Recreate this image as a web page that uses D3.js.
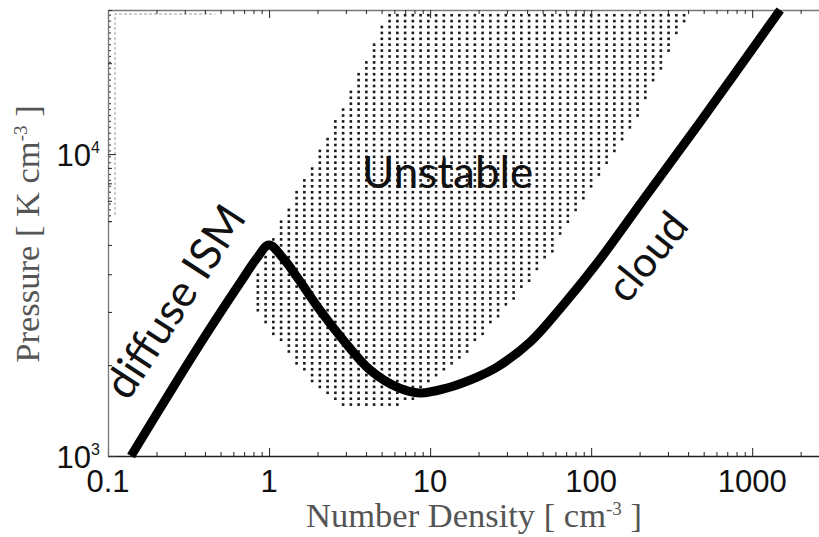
<!DOCTYPE html>
<html>
<head>
<meta charset="utf-8">
<script src="https://cdn.jsdelivr.net/npm/d3@7"></script>
<style>
  html, body { margin: 0; padding: 0; background: #fff; }
  svg { display: block; }
</style>
</head>
<body>
<svg id="chart" width="819" height="537"></svg>
<script>
// Thermal equilibrium curve: number density [cm^-3] vs pressure [K cm^-3]
const curveDensity  = [0.139, 0.254, 0.412, 0.66, 0.842, 1.0, 1.22, 1.49, 2.07, 2.89, 4.24, 6.24, 8.67, 12.75, 19.6, 26.1, 41.8, 67.0, 109, 210, 475, 1493];
const curvePressure = [1000, 1692, 2552, 3741, 4524, 5000, 4524, 3919, 3041, 2421, 1927, 1692, 1617, 1680, 1826, 1971, 2385, 3162, 4356, 7041, 12760, 30000];

// Outline of the thermally unstable zone (clockwise from the top-left corner)
const unstableDensity  = [5.64, 2.84, 1.60, 1.26, 0.905, 0.796, 0.796, 0.905, 1.12, 1.60, 2.02, 2.84, 3.18, 5.81, 7.51, 10.3, 16.0, 22.9, 36.2, 57.3, 103, 202, 412];
const unstablePressure = [30000, 14310, 8080, 6377, 4457, 3627, 3211, 2886, 2422, 1897, 1654, 1487, 1420, 1420, 1510, 1745, 2079, 2653, 3465, 4738, 7896, 13770, 30000];

// Axis ticks
const xMajorTicks = [0.1, 1, 10, 100, 1000];
const xTickLabels = ["0.1", "1", "10", "100", "1000"];
const xMinorTicks = [0.2, 0.3, 0.4, 0.5, 0.6, 0.7, 0.8, 0.9, 2, 3, 4, 5, 6, 7, 8, 9, 20, 30, 40, 50, 60, 70, 80, 90, 200, 300, 400, 500, 600, 700, 800, 900, 2000, 3000];
const yMajorTicks = [1000, 10000];
const yTickExponents = ["3", "4"];
const yMinorTicks = [2000, 3000, 4000, 5000, 6000, 7000, 8000, 9000, 20000, 30000];

// Text labels
const xTitle = { main: "Number Density [ cm", sup: "-3", tail: " ]" };
const yTitle = { main: "Pressure [ K cm", sup: "-3", tail: " ]" };
const regionLabels = ["Unstable", "diffuse ISM", "cloud"];

const svg = d3.select("#chart");
const plotLeft = 108, plotRight = 829, plotTop = 10, plotBottom = 456;

const x = d3.scaleLog().domain([0.1, 3000]).range([plotLeft, plotRight]);
const y = d3.scaleLog().domain([1000, 30000]).range([plotBottom, plotTop]);

// ---- stippled unstable region ----
const poly = unstableDensity.map((d, i) => [x(d), y(unstablePressure[i])]);
const dotDx = 7.75, dotDy = 5.9, dotX0 = 389.6, dotY0 = 15.2;
const dots = [];
for (let gy = dotY0; gy < plotBottom; gy += dotDy) {
  for (let gx = dotX0 - dotDx * 40; gx < 819; gx += dotDx) {
    if (gx > plotLeft && d3.polygonContains(poly, [gx, gy])) dots.push([gx, gy]);
  }
}
svg.append("g").attr("class", "stipple")
  .selectAll("rect").data(dots).join("rect")
  .attr("x", d => d[0] - 1.3).attr("y", d => d[1] - 1.3)
  .attr("width", 2.6).attr("height", 2.6)
  .attr("fill", "#1a1a1a");

// faint dashed frame in the upper-left corner
svg.append("path")
  .attr("d", `M115,215 V14 H215`)
  .attr("fill", "none").attr("stroke", "#9a9a9a").attr("stroke-width", 1)
  .attr("stroke-dasharray", "3,2");

// small marks along the left edge
const edgeMarks = d3.range(dotY0, 224, dotDy);
svg.append("g").selectAll("line").data(edgeMarks).join("line")
  .attr("x1", plotLeft).attr("x2", plotLeft + 3)
  .attr("y1", d => d).attr("y2", d => d)
  .attr("stroke", "#444").attr("stroke-width", 1.2);

// ---- axes ----
function styleAxis(g, color) {
  g.selectAll("path.domain").attr("stroke", color).attr("stroke-width", 1.3);
  g.selectAll(".tick line").attr("stroke", "#333").attr("stroke-width", 1.1);
  g.selectAll(".tick text").remove();
}
// bottom
svg.append("g").attr("transform", `translate(0,${plotBottom})`)
  .call(d3.axisBottom(x).tickValues(xMinorTicks).tickSizeInner(-4).tickSizeOuter(0))
  .call(g => styleAxis(g, "#222"));
svg.append("g").attr("transform", `translate(0,${plotBottom})`)
  .call(d3.axisBottom(x).tickValues(xMajorTicks).tickSizeInner(-8).tickSizeOuter(0))
  .call(g => { styleAxis(g, "#222"); g.select("path.domain").remove(); });
// top
svg.append("g").attr("transform", `translate(0,${plotTop})`)
  .call(d3.axisTop(x).tickValues(xMinorTicks).tickSizeInner(-4).tickSizeOuter(0))
  .call(g => styleAxis(g, "#777"));
svg.append("g").attr("transform", `translate(0,${plotTop})`)
  .call(d3.axisTop(x).tickValues(xMajorTicks).tickSizeInner(-8).tickSizeOuter(0))
  .call(g => { styleAxis(g, "#777"); g.select("path.domain").remove(); });
// left
svg.append("g").attr("transform", `translate(${plotLeft},0)`)
  .call(d3.axisLeft(y).tickValues(yMinorTicks).tickSizeInner(-4).tickSizeOuter(0))
  .call(g => styleAxis(g, "#777"));
svg.append("g").attr("transform", `translate(${plotLeft},0)`)
  .call(d3.axisLeft(y).tickValues(yMajorTicks).tickSizeInner(-8).tickSizeOuter(0))
  .call(g => { styleAxis(g, "#777"); g.select("path.domain").remove(); });

// tick labels
svg.append("g").selectAll("text").data(xMajorTicks).join("text")
  .attr("x", d => x(d)).attr("y", 492)
  .attr("text-anchor", "middle")
  .attr("font-family", "'Liberation Sans', Arial, sans-serif")
  .attr("font-size", 31).attr("fill", "#111")
  .text((d, i) => xTickLabels[i]);

const yl = svg.append("g").selectAll("text").data(yMajorTicks).join("text")
  .attr("x", 100).attr("y", d => y(d) + 12)
  .attr("text-anchor", "end")
  .attr("font-family", "'Liberation Sans', Arial, sans-serif")
  .attr("font-size", 31).attr("fill", "#111");
yl.append("tspan").text("10");
yl.append("tspan").attr("dy", -13).attr("font-size", 16).text((d, i) => yTickExponents[i]);

// axis titles
function title(sel, t) {
  sel.attr("font-family", "'Liberation Serif', 'Times New Roman', serif")
    .attr("font-size", 34.5).attr("fill", "#555").attr("text-anchor", "middle");
  sel.append("tspan").text(t.main);
  sel.append("tspan").attr("dy", -12).attr("font-size", 19).text(t.sup);
  sel.append("tspan").attr("dy", 12).text(t.tail);
}
svg.append("text").attr("x", 474).attr("y", 527).call(title, xTitle);
svg.append("text").attr("transform", "translate(39,234) rotate(-90)").call(title, yTitle);

// ---- equilibrium curve ----
const line = d3.line()
  .x(d => x(d[0])).y(d => y(d[1]))
  .curve(d3.curveCatmullRom.alpha(0.5));
svg.append("path")
  .datum(curveDensity.map((d, i) => [d, curvePressure[i]]))
  .attr("d", line)
  .attr("fill", "none").attr("stroke", "#000")
  .attr("stroke-width", 9).attr("stroke-linejoin", "round");

// ---- region labels ----
const labelFont = "Lato, 'Open Sans', sans-serif";
svg.append("text").attr("x", 362).attr("y", 188)
  .attr("font-family", labelFont).attr("font-size", 44).attr("fill", "#111")
  .text(regionLabels[0]);
svg.append("text").attr("transform", "translate(128,402) rotate(-57)")
  .attr("font-family", labelFont).attr("font-size", 44).attr("fill", "#111")
  .text(regionLabels[1]);
svg.append("text").attr("transform", "translate(627,305) rotate(-51)")
  .attr("font-family", labelFont).attr("font-size", 42).attr("fill", "#111")
  .text(regionLabels[2]);
</script>
</body>
</html>
